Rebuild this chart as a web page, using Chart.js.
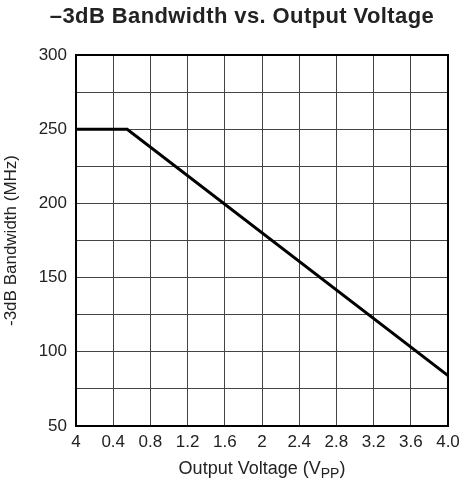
<!DOCTYPE html>
<html>
<head>
<meta charset="utf-8">
<script src="https://cdn.jsdelivr.net/npm/chart.js@4.4.0/dist/chart.umd.min.js"></script>
<style>
  html, body { margin: 0; padding: 0; background: #fff; }
  #wrap { width: 463px; height: 497px; position: relative; }
</style>
</head>
<body>
<div id="wrap"><canvas id="bwChart"></canvas></div>
<script>
// output voltage (Vpp) and bandwidth (MHz)
const voltage = [0, 0.55, 4.0];
const bandwidth = [250, 250, 84];

// x tick labels as printed on the original (first one really says "4")
const xTickLabels = ["4", "0.4", "0.8", "1.2", "1.6", "2", "2.4", "2.8", "3.2", "3.6", "4.0"];
const yTicks = [50, 100, 150, 200, 250, 300];

const FONT = "'Liberation Sans', Arial, sans-serif";

// title + axis titles drawn by hand so the subscript PP works
const textPlugin = {
    id: 'textPlugin',
    afterDraw(chart) {
        const ctx = chart.ctx;
        const area = chart.chartArea;
        ctx.save();

        // frame round the plot area (thicker than the grid)
        ctx.strokeStyle = '#000';
        ctx.lineWidth = 2;
        ctx.strokeRect(area.left, area.top, area.right - area.left, area.bottom - area.top);

        ctx.fillStyle = '#222';

        // title
        ctx.font = "bold 22px " + FONT;
        ctx.letterSpacing = '0.4px';
        ctx.textAlign = 'center';
        ctx.textBaseline = 'alphabetic';
        ctx.fillText('\u20133dB Bandwidth vs. Output Voltage', 242, 23);
        ctx.letterSpacing = '0px';

        // x axis title with subscript
        ctx.textBaseline = 'middle';
        const main = 'Output Voltage (V';
        ctx.font = "18px " + FONT;
        const w1 = ctx.measureText(main).width;
        ctx.font = "14px " + FONT;
        const w2 = ctx.measureText('PP').width;
        ctx.font = "18px " + FONT;
        const w3 = ctx.measureText(')').width;
        let x = (area.left + area.right) / 2 - (w1 + w2 + w3) / 2;
        const y = 469;
        ctx.textAlign = 'left';
        ctx.fillText(main, x, y);
        x += w1;
        ctx.font = "14px " + FONT;
        ctx.fillText('PP', x, y + 5);
        x += w2;
        ctx.font = "18px " + FONT;
        ctx.fillText(')', x, y);

        // y axis title
        ctx.translate(11, (area.top + area.bottom) / 2);
        ctx.rotate(-Math.PI / 2);
        ctx.textAlign = 'center';
        ctx.font = "17px " + FONT;
        ctx.fillText('-3dB Bandwidth (MHz)', 0, 0);
        ctx.restore();
    }
};

new Chart(document.getElementById('bwChart'), {
    type: 'scatter',
    data: {
        datasets: [{
            data: voltage.map((v, i) => ({ x: v, y: bandwidth[i] })),
            showLine: true,
            borderColor: '#000',
            borderWidth: 3,
            pointRadius: 0,
            tension: 0
        }]
    },
    options: {
        responsive: true,
        maintainAspectRatio: false,
        animation: false,
        layout: {
            padding: { top: 55, right: 15, left: 0, bottom: 0 }
        },
        plugins: {
            legend: { display: false },
            tooltip: { enabled: false }
        },
        scales: {
            x: {
                type: 'linear',
                min: 0,
                max: 4,
                afterBuildTicks: (scale) => {
                    scale.ticks = xTickLabels.map((t, i) => ({ value: i * 0.4 }));
                },
                afterFit: (scale) => {
                    scale.height = 71;
                    // don't let the last label push the plot in
                    scale.paddingLeft = 0;
                    scale.paddingRight = 0;
                },
                ticks: {
                    callback: (val, i) => xTickLabels[i],
                    color: '#222',
                    font: { family: FONT, size: 17 },
                    padding: 6,
                    maxRotation: 0,
                    autoSkip: false
                },
                grid: { color: '#444', lineWidth: 1, drawTicks: false },
                border: { color: '#000', width: 2 }
            },
            y: {
                min: 50,
                max: 300,
                afterBuildTicks: (scale) => {
                    const t = [];
                    for (let v = 50; v <= 300; v += 25) t.push({ value: v });
                    scale.ticks = t;
                },
                afterFit: (scale) => { scale.width = 76; },
                ticks: {
                    callback: (val) => yTicks.includes(val) ? String(val) : '',
                    color: '#222',
                    font: { family: FONT, size: 17 },
                    padding: 9,
                    autoSkip: false
                },
                grid: { color: '#444', lineWidth: 1, drawTicks: false },
                border: { color: '#000', width: 2 }
            }
        }
    },
    plugins: [textPlugin]
});
</script>
</body>
</html>
